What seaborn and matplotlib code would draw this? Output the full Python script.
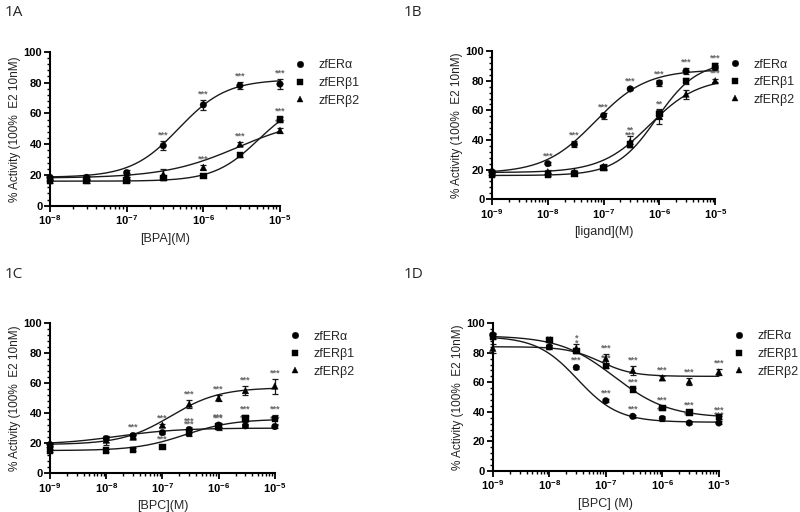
import numpy as np
import pandas as pd
import matplotlib
matplotlib.use('Agg')
import matplotlib.pyplot as plt
import seaborn as sns
from matplotlib.ticker import LogLocator, MultipleLocator, NullFormatter

receptors = ['zfERα', 'zfERβ1', 'zfERβ2']
marker_map = {'zfERα': 'o', 'zfERβ1': 's', 'zfERβ2': '^'}
ylabel = '% Activity (100%  E2 10nM)'

# ---- 1A: BPA ----
conc_a = [1e-8, 3e-8, 1e-7, 3e-7, 1e-6, 3e-6, 1e-5]
a_alpha = [18.5, 18.5, 21.5, 39, 65.5, 78, 79]
a_beta1 = [16, 16, 16.5, 18, 19.5, 33, 56]
a_beta2 = [18, 18, 20, 20.5, 25, 40, 49]
a_alpha_err = [1, 1, 1.5, 3, 3, 2.5, 3.5]
a_beta1_err = [1, 1, 1, 1, 1, 1.5, 1.5]
a_beta2_err = [1, 1, 1.5, 3.5, 1.5, 1.5, 1.5]
a_alpha_sig = ['', '', '', '***', '***', '***', '***']
a_beta1_sig = ['', '', '', '', '', '', '***']
a_beta2_sig = ['', '', '', '', '***', '***', '***']
# fitted curve parameters: bottom, top, logEC50, hill
a_alpha_fit = [18.5, 82, -6.32, 1.4]
a_beta1_fit = [16, 70, -5.28, 1.5]
a_beta2_fit = [18, 58, -5.55, 0.9]

# ---- 1B: ligand ----
conc_b = [1e-9, 1e-8, 3e-8, 1e-7, 3e-7, 1e-6, 3e-6, 1e-5]
b_alpha = [18.5, 24, 37, 56.5, 74.5, 78.5, 86.5, 89]
b_beta1 = [16.5, 16.5, 17, 21, 37, 57.5, 80, 90]
b_beta2 = [18, 18.5, 18.5, 22, 39, 56, 71, 80]
b_alpha_err = [1, 1, 2, 2, 1, 2, 2, 2]
b_beta1_err = [1, 1, 1, 1.5, 2, 3, 2, 2]
b_beta2_err = [1, 1, 1, 1.5, 4, 5, 3, 1]
b_alpha_sig = ['', '***', '***', '***', '***', '***', '***', '***']
b_beta1_sig = ['', '', '', '', '***', '**', '**', '']
b_beta2_sig = ['', '', '', '', '**', '', '**', '***']
b_alpha_fit = [17.5, 87.5, -7.15, 0.95]
b_beta1_fit = [16, 93, -6.05, 1.2]
b_beta2_fit = [18, 82, -6.18, 1.0]

# ---- 1C: BPC agonist ----
conc_c = [1e-9, 1e-8, 3e-8, 1e-7, 3e-7, 1e-6, 3e-6, 1e-5]
c_alpha = [19, 23, 25, 27, 29, 32, 31.5, 31]
c_beta1 = [15, 15, 15.5, 17.5, 27, 31, 36.5, 36]
c_beta2 = [19, 22, 24, 32, 46, 50, 55, 58]
c_alpha_err = [1, 2, 1.5, 1, 2, 1.5, 1, 1]
c_beta1_err = [1, 1, 1, 1, 2, 2, 2.5, 3]
c_beta2_err = [1, 3, 1.5, 1, 2.5, 2, 3, 5]
c_alpha_sig = ['', '', '***', '', '***', '***', '***', '***']
c_beta1_sig = ['', '', '', '***', '***', '***', '***', '***']
c_beta2_sig = ['', '', '', '***', '***', '***', '***', '***']
c_alpha_fit = [19, 30, -7.8, 0.8]
c_beta1_fit = [15, 36, -6.6, 1.0]
c_beta2_fit = [19, 57, -6.85, 1.0]

# ---- 1D: BPC antagonist ----
conc_d = [1e-9, 1e-8, 3e-8, 1e-7, 3e-7, 1e-6, 3e-6, 1e-5]
d_alpha = [92, 84, 70, 47.5, 37, 35.5, 32.5, 32.5]
d_beta1 = [91, 88.5, 81, 71, 55, 42.5, 39.5, 36.5]
d_beta2 = [83, 84, 83, 76, 68, 63, 60.5, 67]
d_alpha_err = [1, 1, 1, 1, 1, 1.5, 1, 1]
d_beta1_err = [1.5, 1, 1.5, 1.5, 1, 1.5, 1, 1]
d_beta2_err = [3, 1, 3, 3, 3, 1.5, 2.5, 2]
d_alpha_sig = ['', '**', '***', '***', '***', '***', '***', '***']
d_beta1_sig = ['', '', '*', '***', '***', '***', '***', '***']
d_beta2_sig = ['', '', '*', '***', '***', '***', '***', '***']
d_alpha_fit = [33, 91, -7.5, -1.2]
d_beta1_fit = [36, 91.5, -6.85, -0.9]
d_beta2_fit = [64, 84, -7.1, -1.5]

panels = [
    dict(tag='1A', conc=conc_a, xlabel='[BPA](M)', xlo=-8,
         vals=[a_alpha, a_beta1, a_beta2], errs=[a_alpha_err, a_beta1_err, a_beta2_err],
         sigs=[a_alpha_sig, a_beta1_sig, a_beta2_sig], fits=[a_alpha_fit, a_beta1_fit, a_beta2_fit],
         pos=[0.0625, 0.598, 0.2875, 0.301]),
    dict(tag='1B', conc=conc_b, xlabel='[ligand](M)', xlo=-9,
         vals=[b_alpha, b_beta1, b_beta2], errs=[b_alpha_err, b_beta1_err, b_beta2_err],
         sigs=[b_alpha_sig, b_beta1_sig, b_beta2_sig], fits=[b_alpha_fit, b_beta1_fit, b_beta2_fit],
         pos=[0.615, 0.611, 0.279, 0.289]),
    dict(tag='1C', conc=conc_c, xlabel='[BPC](M)', xlo=-9,
         vals=[c_alpha, c_beta1, c_beta2], errs=[c_alpha_err, c_beta1_err, c_beta2_err],
         sigs=[c_alpha_sig, c_beta1_sig, c_beta2_sig], fits=[c_alpha_fit, c_beta1_fit, c_beta2_fit],
         pos=[0.0625, 0.076, 0.281, 0.293]),
    dict(tag='1D', conc=conc_d, xlabel='[BPC] (M)', xlo=-9,
         vals=[d_alpha, d_beta1, d_beta2], errs=[d_alpha_err, d_beta1_err, d_beta2_err],
         sigs=[d_alpha_sig, d_beta1_sig, d_beta2_sig], fits=[d_alpha_fit, d_beta1_fit, d_beta2_fit],
         pos=[0.616, 0.080, 0.2825, 0.289]),
]


def four_pl(logx, bottom, top, logec50, hill):
    return bottom + (top - bottom) / (1 + 10 ** ((logec50 - logx) * hill))


sns.set_style('ticks')
plt.rcParams['font.family'] = ['Liberation Sans', 'DejaVu Sans']

fig = plt.figure(figsize=(8, 5.12), dpi=100)

for p in panels:
    ax = fig.add_axes(p['pos'])

    # points
    rows = []
    for name, vals in zip(receptors, p['vals']):
        for c, v in zip(p['conc'], vals):
            rows.append({'conc': c, 'activity': v, 'receptor': name})
    df = pd.DataFrame(rows)

    # fitted curves
    grid = np.linspace(p['xlo'], -5, 200)
    curve_rows = []
    for name, fit in zip(receptors, p['fits']):
        for lx in grid:
            curve_rows.append({'conc': 10 ** lx, 'activity': four_pl(lx, *fit), 'receptor': name})
    curves = pd.DataFrame(curve_rows)

    sns.lineplot(data=curves, x='conc', y='activity', units='receptor', estimator=None,
                 color='#1a1a1a', lw=1.0, legend=False, ax=ax, clip_on=False)

    for name, vals, errs in zip(receptors, p['vals'], p['errs']):
        ax.errorbar(p['conc'], vals, yerr=errs, fmt='none', ecolor='#1a1a1a',
                    elinewidth=0.9, capsize=2.5, capthick=0.9, clip_on=False)

    sns.scatterplot(data=df, x='conc', y='activity', style='receptor', markers=marker_map,
                    style_order=receptors, color='black', s=22, edgecolor='black',
                    linewidth=0.3, ax=ax, clip_on=False, zorder=5)

    # significance stars
    for vals, errs, sigs in zip(p['vals'], p['errs'], p['sigs']):
        for c, v, e, s in zip(p['conc'], vals, errs, sigs):
            if s:
                ax.text(c, v + e + 1.0, s, ha='center', va='bottom', fontsize=6.5,
                        color='#666666', fontweight='bold')

    ax.set_xscale('log')
    ax.set_xlim(10 ** p['xlo'], 1e-5)
    ax.set_ylim(0, 100)
    ax.xaxis.set_major_locator(LogLocator(base=10, numticks=10))
    ax.xaxis.set_minor_locator(LogLocator(base=10, subs=np.arange(2, 10), numticks=10))
    ax.xaxis.set_minor_formatter(NullFormatter())
    ax.yaxis.set_major_locator(MultipleLocator(20))
    ax.yaxis.set_minor_locator(MultipleLocator(4))

    for side in ['top', 'right']:
        ax.spines[side].set_visible(False)
    for side in ['left', 'bottom']:
        ax.spines[side].set_linewidth(1.5)
        ax.spines[side].set_color('black')
    ax.tick_params(which='major', length=4, width=1.3, labelsize=8, colors='black', pad=1.5)
    ax.tick_params(which='minor', length=2.5, width=1.0, colors='black')
    for lab in ax.get_xticklabels() + ax.get_yticklabels():
        lab.set_fontweight('bold')

    ax.set_xlabel(p['xlabel'], fontsize=9, labelpad=4)
    ax.set_ylabel(ylabel, fontsize=8.5, labelpad=2, color='#222222')

    sns.move_legend(ax, 'upper left', bbox_to_anchor=(1.06, 0.95), frameon=False,
                    title=None, fontsize=9, handletextpad=1.0, labelspacing=0.45,
                    handlelength=1.0, borderpad=0.0, borderaxespad=0.0,
                    markerscale=1.0)

    bbox = p['pos']
    fig.text(0.006 if bbox[0] < 0.5 else 0.505, 0.99 if bbox[1] > 0.5 else 0.478,
             p['tag'], fontsize=11, family=['Open Sans', 'DejaVu Sans'], va='top')

fig.savefig('out.png', dpi=100)
